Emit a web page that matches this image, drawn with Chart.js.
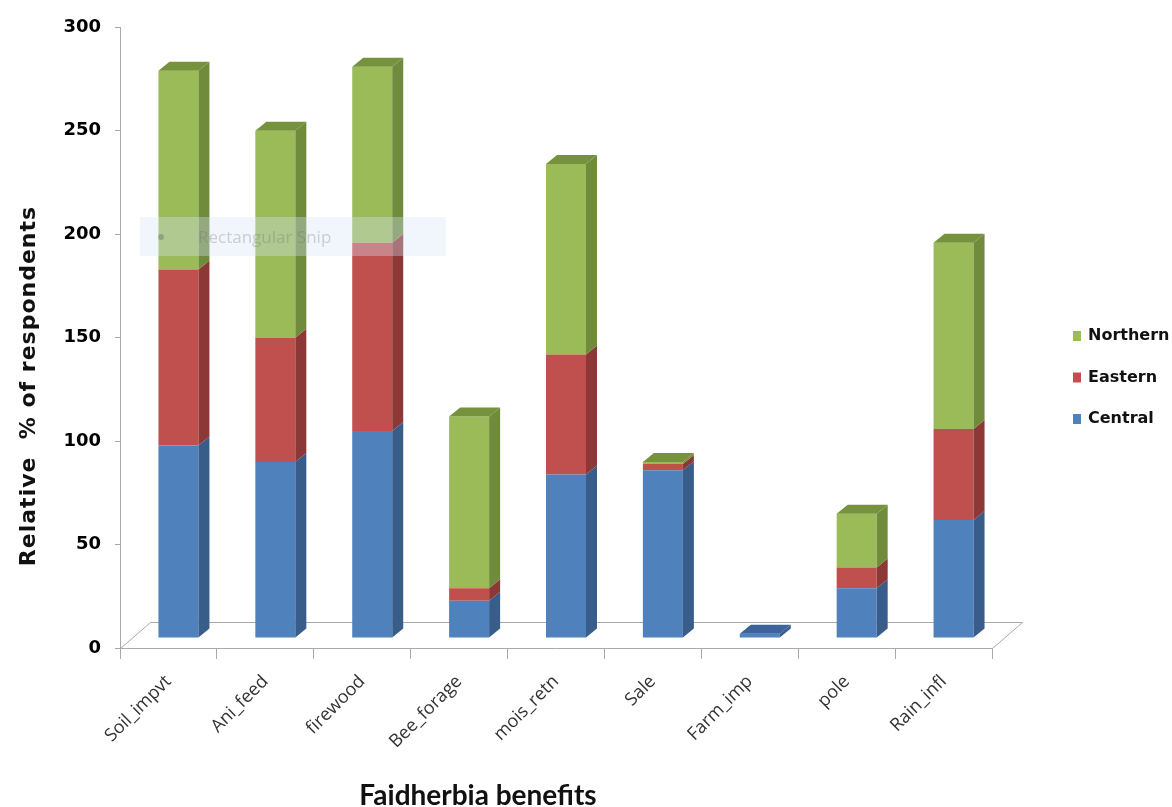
<!DOCTYPE html>
<html>
<head>
<meta charset="utf-8">
<script src="https://cdn.jsdelivr.net/npm/chart.js@4.4.0/dist/chart.umd.min.js"></script>
<style>
  html, body { margin: 0; padding: 0; background: #ffffff; }
  #wrap { width: 1172px; height: 807px; position: relative; }
</style>
</head>
<body>
<div id="wrap"><canvas id="c" width="1172" height="807"></canvas></div>
<script>
// Benefit categories and stacked shares per region (relative % of respondents)
const categories = ['Soil_impvt', 'Ani_feed', 'firewood', 'Bee_forage', 'mois_retn', 'Sale', 'Farm_imp', 'pole', 'Rain_infl'];
const central  = [93, 85, 100, 18, 79, 81, 2, 24, 57];
const eastern  = [85, 60, 91, 6, 58, 3, 0, 10, 44];
const northern = [96, 100, 85, 83, 92, 1, 0, 26, 90];
const seriesNames = ['Central', 'Eastern', 'Northern'];
const yTicks = [0, 50, 100, 150, 200, 250, 300];

// Face colours: front, side, top
const palette = [
  { front: '#4F81BD', side: '#385D8A', top: '#3C649A' },
  { front: '#C0504D', side: '#8C3836', top: '#9E403D' },
  { front: '#9BBB59', side: '#718B3D', top: '#76923C' }
];

// Pseudo-3D geometry (pixels)
const BAR_SHIFT = { x: 10, y: -10 };   // bars sit mid-way into the floor
const BAR_DEPTH = { x: 11, y: -9 };    // extrusion of each column
const FLOOR_DEPTH = { x: 30, y: -26 };

const floorPlugin = {
  id: 'floor3d',
  beforeDatasetsDraw(chart) {
    const { ctx, chartArea: a } = chart;
    ctx.save();
    ctx.strokeStyle = '#a9a9a9';
    ctx.lineWidth = 1;
    ctx.beginPath();
    ctx.moveTo(a.left + 0.5, a.bottom + 0.5);
    ctx.lineTo(a.left + FLOOR_DEPTH.x + 0.5, a.bottom + FLOOR_DEPTH.y + 0.5);
    ctx.lineTo(a.right + FLOOR_DEPTH.x + 0.5, a.bottom + FLOOR_DEPTH.y + 0.5);
    ctx.lineTo(a.right + 0.5, a.bottom + 0.5);
    ctx.stroke();
    ctx.restore();
    // shift the column fronts back into the floor
    ctx.save();
    ctx.translate(BAR_SHIFT.x, BAR_SHIFT.y);
  },
  afterDatasetsDraw(chart) {
    const { ctx } = chart;
    const n = chart.data.labels.length;
    const metas = chart.data.datasets.map((d, i) => chart.getDatasetMeta(i));
    for (let j = 0; j < n; j++) {
      // side faces of every segment
      metas.forEach((meta, i) => {
        const el = meta.data[j];
        const v = chart.data.datasets[i].data[j];
        if (!el || !v) return;
        const right = el.x + el.width / 2;
        const top = Math.min(el.y, el.base), bot = Math.max(el.y, el.base);
        ctx.fillStyle = palette[i].side;
        ctx.beginPath();
        ctx.moveTo(right, top);
        ctx.lineTo(right + BAR_DEPTH.x, top + BAR_DEPTH.y);
        ctx.lineTo(right + BAR_DEPTH.x, bot + BAR_DEPTH.y);
        ctx.lineTo(right, bot);
        ctx.closePath();
        ctx.fill();
      });
      // top face of the highest non-empty segment
      let topIdx = -1;
      chart.data.datasets.forEach((d, i) => { if (d.data[j]) topIdx = i; });
      if (topIdx < 0) continue;
      const el = metas[topIdx].data[j];
      const left = el.x - el.width / 2, right = el.x + el.width / 2;
      const top = Math.min(el.y, el.base);
      ctx.fillStyle = palette[topIdx].top;
      ctx.beginPath();
      ctx.moveTo(left, top);
      ctx.lineTo(left + BAR_DEPTH.x, top + BAR_DEPTH.y);
      ctx.lineTo(right + BAR_DEPTH.x, top + BAR_DEPTH.y);
      ctx.lineTo(right, top);
      ctx.closePath();
      ctx.fill();
    }
    ctx.restore();
  }
};

const decorPlugin = {
  id: 'decor',
  afterDraw(chart) {
    const { ctx } = chart;
    ctx.save();
    // faint snipping-tool caption box
    ctx.fillStyle = 'rgba(214,228,248,0.35)';
    ctx.fillRect(140, 217, 306, 39);
    ctx.fillStyle = 'rgba(90,90,90,0.35)';
    ctx.beginPath();
    ctx.arc(161, 237, 3, 0, Math.PI * 2);
    ctx.fill();
    ctx.fillStyle = 'rgba(110,110,110,0.30)';
    ctx.font = '17px "Open Sans"';
    ctx.textBaseline = 'middle';
    ctx.textAlign = 'left';
    ctx.fillText('Rectangular Snip', 198, 238);

    // axis titles
    ctx.fillStyle = '#111111';
    ctx.save();
    ctx.translate(29, 386);
    ctx.rotate(-Math.PI / 2);
    ctx.font = 'bold 22px "DejaVu Sans"';
    ctx.letterSpacing = '1px';
    ctx.textAlign = 'center';
    ctx.textBaseline = 'middle';
    ctx.fillText('Relative  % of respondents', 0, 0);
    ctx.restore();

    ctx.font = 'bold 28px Lato';
    ctx.textAlign = 'center';
    ctx.textBaseline = 'alphabetic';
    ctx.fillText('Faidherbia benefits', 478, 805);

    // legend, top series first
    ctx.font = 'bold 16px "DejaVu Sans"';
    ctx.textAlign = 'left';
    ctx.textBaseline = 'middle';
    const rows = [2, 1, 0];
    rows.forEach((i, k) => {
      const y = 336 + k * 41.5;
      ctx.fillStyle = palette[i].front;
      ctx.fillRect(1073, y - 5, 8, 10);
      ctx.fillStyle = '#111111';
      ctx.fillText(seriesNames[i], 1088, y);
    });
    ctx.restore();
  }
};

const dataSeries = [central, eastern, northern];
new Chart(document.getElementById('c'), {
  type: 'bar',
  data: {
    labels: categories,
    datasets: dataSeries.map((arr, i) => ({
      label: seriesNames[i],
      data: arr,
      backgroundColor: palette[i].front,
      borderWidth: 0,
      categoryPercentage: 0.8,
      barPercentage: 0.516
    }))
  },
  options: {
    responsive: false,
    devicePixelRatio: 1,
    animation: false,
    layout: { padding: { left: 0, right: 180, top: 27, bottom: 0 } },
    plugins: { legend: { display: false }, tooltip: { enabled: false } },
    scales: {
      x: {
        stacked: true,
        grid: { display: true, drawOnChartArea: false, drawTicks: true, tickLength: 11, color: '#a9a9a9', offset: true },
        border: { display: true, color: '#a9a9a9' },
        ticks: { minRotation: 45, maxRotation: 45, color: '#333333', padding: 12, font: { family: 'Open Sans', size: 18 } },
        afterFit(axis) { axis.height = 159; }
      },
      y: {
        stacked: true,
        min: 0,
        max: 300,
        afterBuildTicks(axis) { axis.ticks = yTicks.map(v => ({ value: v })); },
        grid: { display: true, drawOnChartArea: false, drawTicks: true, tickLength: 5, color: '#a9a9a9' },
        border: { display: true, color: '#a9a9a9' },
        ticks: { color: '#000000', padding: 14, font: { family: 'DejaVu Sans', size: 18, weight: 'bold' } },
        afterFit(axis) { axis.width = 120; }
      }
    }
  },
  plugins: [floorPlugin, decorPlugin]
});
</script>
</body>
</html>
